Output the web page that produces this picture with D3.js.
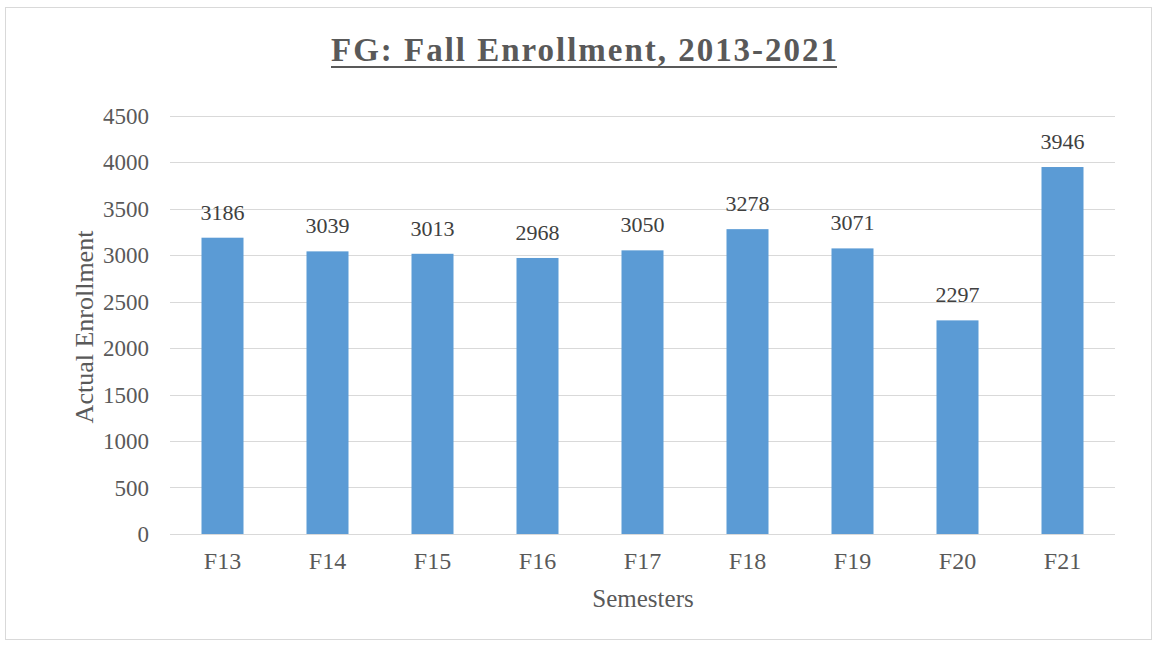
<!DOCTYPE html>
<html>
<head>
<meta charset="utf-8">
<script src="https://cdn.jsdelivr.net/npm/d3@7"></script>
<style>
  body { margin: 0; background: #fff; }
  text { font-family: "Liberation Serif", "Times New Roman", serif; }
</style>
</head>
<body>
<div id="chart"></div>
<script>
var semesters = ["F13", "F14", "F15", "F16", "F17", "F18", "F19", "F20", "F21"];
var enrollment = [3186, 3039, 3013, 2968, 3050, 3278, 3071, 2297, 3946];
var yTicks = [0, 500, 1000, 1500, 2000, 2500, 3000, 3500, 4000, 4500];

var chart_width  = 1158;
var chart_height = 648;
var plotLeft = 170, plotRight = 1115, plotTop = 115.5, plotBottom = 534;

var svg = d3.select('#chart')
  .append('svg')
  .attr('width', chart_width)
  .attr('height', chart_height);

// outer frame
svg.append('rect')
  .attr('x', 5.5).attr('y', 7.5)
  .attr('width', 1146).attr('height', 632)
  .attr('fill', '#fff')
  .attr('stroke', '#d9d9d9');

var x_scale = d3.scaleBand()
  .domain(semesters)
  .range([plotLeft, plotRight])
  .paddingInner(0.6)
  .paddingOuter(0.3);

var y_scale = d3.scaleLinear()
  .domain([0, 4500])
  .range([plotBottom, plotTop]);

// gridlines
svg.append('g')
  .selectAll('line')
  .data(yTicks)
  .enter()
  .append('line')
  .attr('x1', plotLeft).attr('x2', plotRight)
  .attr('y1', function(d){ return Math.round(y_scale(d)) + 0.5; })
  .attr('y2', function(d){ return Math.round(y_scale(d)) + 0.5; })
  .attr('stroke', '#d9d9d9')
  .attr('stroke-width', 1);

// y axis labels
var yAxis = d3.axisLeft(y_scale).tickValues(yTicks).tickSize(0).tickPadding(0).tickFormat(d3.format('d'));
var gy = svg.append('g')
  .attr('transform', 'translate(149,0)')
  .call(yAxis);
gy.select('.domain').remove();
gy.selectAll('text')
  .attr('font-size', 23)
  .attr('fill', '#595959')
  .attr('dy', '0.33em');

// x axis labels
var xAxis = d3.axisBottom(x_scale).tickSize(0).tickPadding(0);
var gx = svg.append('g')
  .attr('transform', 'translate(0,' + plotBottom + ')')
  .call(xAxis);
gx.select('.domain').remove();
gx.selectAll('text')
  .attr('font-size', 24)
  .attr('fill', '#595959')
  .attr('dy', null)
  .attr('y', 35);

// bars
svg.selectAll('rect.bar')
  .data(enrollment)
  .enter()
  .append('rect')
  .attr('class', 'bar')
  .attr('x', function(d, i){ return x_scale(semesters[i]); })
  .attr('y', function(d){ return y_scale(d); })
  .attr('width', x_scale.bandwidth())
  .attr('height', function(d){ return plotBottom - y_scale(d); })
  .attr('fill', '#5b9bd5');

// value labels
svg.selectAll('text.val')
  .data(enrollment)
  .enter()
  .append('text')
  .attr('class', 'val')
  .attr('x', function(d, i){ return x_scale(semesters[i]) + x_scale.bandwidth() / 2; })
  .attr('y', function(d){ return y_scale(d) - 18; })
  .attr('text-anchor', 'middle')
  .attr('font-size', 22)
  .attr('fill', '#404040')
  .text(function(d){ return d; });

// title
svg.append('text')
  .attr('x', 584)
  .attr('y', 61)
  .attr('text-anchor', 'middle')
  .attr('font-size', 33)
  .attr('font-weight', 'bold')
  .attr('fill', '#595959')
  .attr('textLength', 506)
  .attr('lengthAdjust', 'spacing')
  .text('FG: Fall Enrollment, 2013-2021');
svg.append('rect')
  .attr('x', 331).attr('y', 66)
  .attr('width', 506).attr('height', 2)
  .attr('fill', '#595959');

// axis titles
svg.append('text')
  .attr('x', 643)
  .attr('y', 607)
  .attr('text-anchor', 'middle')
  .attr('font-size', 25)
  .attr('fill', '#595959')
  .text('Semesters');

svg.append('text')
  .attr('transform', 'translate(93,327) rotate(-90)')
  .attr('text-anchor', 'middle')
  .attr('font-size', 26)
  .attr('fill', '#595959')
  .text('Actual Enrollment');
</script>
</body>
</html>
